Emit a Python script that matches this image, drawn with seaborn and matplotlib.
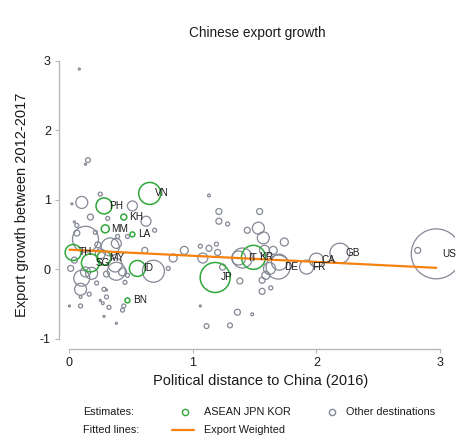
import numpy as np
import pandas as pd
import seaborn as sns
import matplotlib.pyplot as plt
from matplotlib.lines import Line2D

sns.set_style('white')
plt.rcParams['font.family'] = ['Liberation Sans', 'DejaVu Sans']
plt.rcParams['axes.unicode_minus'] = False

# ASEAN, Japan and Korea (labelled, green)
asia_names = ['VN', 'PH', 'KH', 'MM', 'LA', 'TH', 'SG', 'MY', 'ID', 'BN', 'JP', 'KR']
asia_dist = [0.65, 0.28, 0.44, 0.29, 0.51, 0.03, 0.17, 0.28, 0.55, 0.47, 1.18, 1.49]
asia_growth = [1.09, 0.91, 0.75, 0.58, 0.50, 0.24, 0.09, 0.16, 0.01, -0.45, -0.12, 0.17]
asia_weight = [121, 64, 9, 16, 6, 64, 81, 49, 64, 6, 225, 144]

# other destinations with a label
oth_names = ['IT', 'DE', 'FR', 'CA', 'GB', 'US']
oth_dist = [1.40, 1.69, 1.92, 2.00, 2.19, 2.97]
oth_growth = [0.16, 0.03, 0.03, 0.13, 0.23, 0.22]
oth_weight = [100, 144, 49, 49, 100, 625]

# other destinations without label
rest_dist = [0.08, 0.15, 0.13, 0.10, 0.02, 0.51, 0.25, 0.17, 0.62, 0.04, 0.06, 0.13,
             0.21, 0.31, 0.39, 0.47, 0.69, 0.33, 0.38, 0.10, 0.09, 0.01, 0.04, 0.18,
             0.38, 0.30, 0.47, 0.61, 0.68, 0.80, 0.84, 0.93, 0.28, 0.30, 0.32, 0.09,
             0.16, 0.00, 0.09, 0.25, 0.27, 0.28, 0.38, 0.44, 0.43, 0.22, 0.30, 0.45,
             1.13, 1.21, 1.28, 1.06, 1.13, 1.19, 1.20, 1.08, 1.24, 1.44, 1.53, 1.57,
             1.74, 1.58, 1.37, 1.62, 1.59, 1.56, 1.63, 1.56, 1.38, 1.36, 1.48, 1.30,
             1.06, 1.11, 1.70, 1.54, 1.21, 2.82, 1.65, 0.06, 0.37, 0.13, 0.43, 0.25,
             0.23]
rest_growth = [2.88, 1.57, 1.51, 0.96, 0.94, 0.91, 1.08, 0.75, 0.69, 0.68, 0.63, 0.43,
               0.53, 0.73, 0.47, 0.47, 0.56, 0.32, 0.37, -0.13, -0.29, 0.01, 0.13, -0.06,
               -0.03, -0.07, -0.09, 0.27, -0.03, 0.01, 0.16, 0.27, -0.29, -0.40, -0.55, -0.40,
               -0.36, -0.53, -0.53, -0.45, -0.49, -0.68, -0.78, -0.53, -0.59, -0.20, -0.30, -0.19,
               1.06, 0.83, 0.65, 0.33, 0.30, 0.36, 0.24, 0.16, 0.03, 0.56, 0.59, 0.45,
               0.39, 0.27, 0.16, 0.01, -0.09, -0.16, -0.27, -0.32, -0.17, -0.62, -0.65, -0.81,
               -0.53, -0.82, 0.10, 0.83, 0.69, 0.27, 0.27, 0.52, 0.06, -0.04, -0.04, 0.22,
               0.35]
rest_weight = [1, 6, 1, 36, 1, 25, 4, 9, 25, 1, 4, 169,
               4, 4, 4, 4, 4, 81, 25, 64, 36, 9, 9, 36,
               81, 9, 4, 9, 121, 4, 16, 16, 4, 4, 4, 2,
               4, 1, 4, 1, 2, 1, 1, 4, 4, 4, 1, 4,
               2, 9, 4, 4, 9, 4, 9, 25, 9, 9, 36, 36,
               16, 25, 49, 36, 16, 9, 4, 9, 9, 9, 2, 6,
               1, 6, 64, 9, 9, 9, 16, 9, 49, 25, 16, 25,
               9]

# export weighted fit
fit_intercept = 0.28
fit_slope = -0.088

green = '#2fa83a'
grey = '#858895'
orange = '#f5820f'
ink = '#1a1a1a'

asia = pd.DataFrame({'dist': asia_dist, 'growth': asia_growth, 'w': asia_weight, 'name': asia_names})
other = pd.DataFrame({'dist': oth_dist + rest_dist, 'growth': oth_growth + rest_growth,
                      'w': oth_weight + rest_weight,
                      'name': oth_names + [''] * len(rest_dist)})

fig = plt.figure(figsize=(4.67, 4.38), dpi=100)
ax = fig.add_axes([0.1328, 0.219, 0.841, 0.655])

smax = 2.07 * 625
sns.scatterplot(data=other, x='dist', y='growth', size='w', sizes=(0, smax), size_norm=(0, 625),
                facecolor='none', edgecolor=grey, linewidth=0.9, legend=False, ax=ax)
sns.scatterplot(data=asia, x='dist', y='growth', size='w', sizes=(0, smax), size_norm=(0, 625),
                facecolor='none', edgecolor=green, linewidth=1.1, legend=False, ax=ax)

# fitted line
all_x = np.array(asia_dist + oth_dist + rest_dist)
fx = np.array([all_x.min(), all_x.max()])
sns.lineplot(x=fx, y=fit_intercept + fit_slope * fx, color=orange, linewidth=1.6, ax=ax)

for d in [asia, other]:
    for _, r in d[d['name'] != ''].iterrows():
        ax.annotate(r['name'], (r['dist'], r['growth']), xytext=(4, 0), textcoords='offset points',
                    va='center', ha='left', fontsize=7.2, color=ink)

ax.set_xlim(-0.06, 3.12)
ax.set_ylim(-1.05, 3.08)
ax.set_xticks([0, 1, 2, 3])
ax.set_yticks([-1, 0, 1, 2, 3])
ax.set_xlabel('')
ax.set_ylabel('')
for s in ['top', 'right']:
    ax.spines[s].set_visible(False)
ax.spines['left'].set_position(('outward', 2))
ax.spines['bottom'].set_position(('outward', 5))
ax.spines['left'].set_bounds(-1, 3)
ax.spines['bottom'].set_bounds(0, 3)
for s in ['left', 'bottom']:
    ax.spines[s].set_color('#b8b8b8')
    ax.spines[s].set_linewidth(1)
ax.tick_params(direction='out', length=3, width=0.8, color='#b8b8b8', labelsize=9, pad=3,
               labelcolor=ink, left=True, bottom=True)

fig.text(0.552, 0.925, 'Chinese export growth', ha='center', va='center', fontsize=9.8, color=ink)
fig.text(0.559, 0.130, 'Political distance to China (2016)', ha='center', va='center', fontsize=10.5, color=ink)
fig.text(0.047, 0.532, 'Export growth between 2012-2017', ha='center', va='center', rotation=90,
         fontsize=10.5, color=ink)

# legend
fig.text(83 / 467, 1 - 412 / 438, 'Estimates:', va='center', fontsize=7.8, color=ink)
fig.text(83 / 467, 1 - 430 / 438, 'Fitted lines:', va='center', fontsize=7.8, color=ink)
fig.add_artist(Line2D([185 / 467], [1 - 412 / 438], marker='o', markersize=4.5, mfc='none', mec=green,
                      mew=1, transform=fig.transFigure))
fig.add_artist(Line2D([332 / 467], [1 - 412 / 438], marker='o', markersize=4.5, mfc='none', mec=grey,
                      mew=1, transform=fig.transFigure))
fig.add_artist(Line2D([172 / 467, 194 / 467], [1 - 430 / 438] * 2, color=orange, lw=1.6,
                      transform=fig.transFigure))
fig.text(204 / 467, 1 - 412 / 438, 'ASEAN JPN KOR', va='center', fontsize=7.8, color=ink)
fig.text(346 / 467, 1 - 412 / 438, 'Other destinations', va='center', fontsize=7.8, color=ink)
fig.text(204 / 467, 1 - 430 / 438, 'Export Weighted', va='center', fontsize=7.8, color=ink)

fig.savefig('out.png', dpi=100, facecolor='white')
